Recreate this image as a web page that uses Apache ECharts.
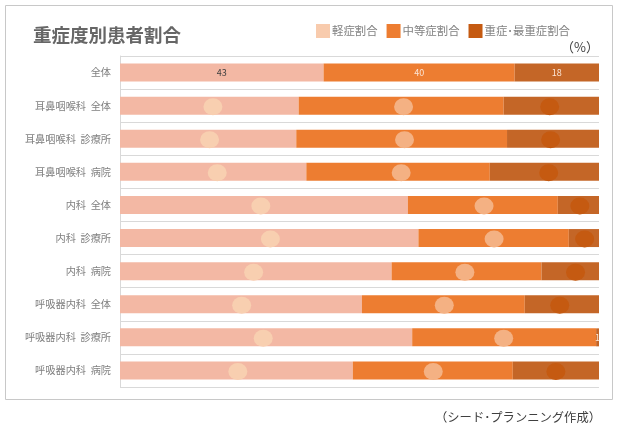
<!DOCTYPE html>
<html>
<head>
<meta charset="utf-8">
<style>html,body{margin:0;padding:0;background:#fff}#main{width:617px;height:428px}</style>
<script src="https://cdn.jsdelivr.net/npm/echarts@6/dist/echarts.min.js"></script>
</head>
<body>
<div id="main"></div>
<script>
var categories = ['全体', '耳鼻咽喉科  全体', '耳鼻咽喉科  診療所', '耳鼻咽喉科  病院', '内科  全体', '内科  診療所', '内科  病院', '呼吸器内科  全体', '呼吸器内科  診療所', '呼吸器内科  病院'];
var seriesNames = ['軽症割合', '中等症割合', '重症･最重症割合'];
// 棒グラフの値
var mild = [42.5, 37.3, 36.8, 38.9, 60.1, 62.3, 56.7, 50.5, 61.0, 48.6];
var moderate = [39.9, 42.8, 44.0, 38.3, 31.3, 31.4, 31.3, 34.0, 38.4, 33.4];
var severe = [17.6, 19.9, 19.2, 22.8, 8.6, 6.3, 12.0, 15.5, 0.6, 18.0];
// 丸印の位置(横軸の値) nullは丸なし
var mildDots = [null, 19.4, 18.7, 20.3, 29.4, 31.4, 27.9, 25.4, 29.9, 24.6];
var moderateDots = [null, 59.2, 59.4, 58.7, 76.0, 78.1, 72.0, 67.7, 80.1, 65.4];
var severeDots = [null, 89.7, 89.9, 89.5, 96.0, 97.0, 95.1, 91.8, null, 91.0];
// 表示するラベル
var mildLabels = ['43', '', '', '', '', '', '', '', '', ''];
var moderateLabels = ['40', '', '', '', '', '', '', '', '', ''];
var severeLabels = ['18', '', '', '', '', '', '', '', '1', ''];

var fontName = '"Noto Sans CJK JP"';

function barSeries(name, values, labels, color, labelColor) {
    return {
        name: name,
        type: 'bar',
        stack: 'total',
        barWidth: 18,
        itemStyle: { color: color },
        label: {
            show: true,
            position: 'inside',
            color: labelColor,
            fontSize: 9,
            fontFamily: fontName,
            formatter: function (p) { return labels[p.dataIndex]; }
        },
        data: values
    };
}

function dotSeries(values, color) {
    return {
        type: 'scatter',
        symbol: 'circle',
        symbolSize: [19, 17],
        symbolOffset: [0, 1],
        z: 5,
        silent: true,
        itemStyle: { color: color, opacity: 1 },
        data: values.map(function (v, i) { return v === null ? null : [v, categories[i]]; }).filter(Boolean)
    };
}

var myChart = echarts.init(document.getElementById('main'));
var option = {
    backgroundColor: '#fff',
    animation: false,
    textStyle: { fontFamily: fontName },
    title: [
        { text: '重症度別患者割合', left: 28, top: 21, textStyle: { color: '#666666', fontSize: 18.5, fontWeight: 'bold', fontFamily: fontName } },
        { text: '（%）', right: 13, top: 36, textStyle: { color: '#404040', fontSize: 13, fontWeight: 'normal', fontFamily: fontName } },
        { text: '（シード･プランニング作成）', right: 11, top: 406, textStyle: { color: '#404040', fontSize: 12.3, fontWeight: 'normal', fontFamily: fontName } }
    ],
    legend: {
        left: 311,
        top: 19,
        itemWidth: 14,
        itemHeight: 14,
        itemGap: 9,
        icon: 'rect',
        textStyle: { color: '#808080', fontSize: 11.4, fontFamily: fontName, padding: [0, 0, 0, -3] },
        data: [
            { name: seriesNames[0], itemStyle: { color: '#f8cbad' } },
            { name: seriesNames[1], itemStyle: { color: '#ed7d31' } },
            { name: seriesNames[2], itemStyle: { color: '#c55a11' } }
        ]
    },
    grid: { left: 120, right: 18, top: 56, height: 331 },
    xAxis: { type: 'value', min: 0, max: 100, show: false },
    yAxis: {
        type: 'category',
        inverse: true,
        data: categories,
        axisLine: { show: true, lineStyle: { color: '#d9d9d9' } },
        axisTick: { show: false },
        splitLine: { show: true, lineStyle: { color: '#d9d9d9' } },
        axisLabel: { color: '#808080', fontSize: 10.2, margin: 9, fontFamily: fontName, interval: 0 }
    },
    graphic: [{
        type: 'rect',
        shape: { x: 5.5, y: 5.5, width: 607, height: 394 },
        style: { fill: 'none', stroke: '#c8c8c8', lineWidth: 1 },
        z: -1
    }],
    series: [
        barSeries(seriesNames[0], mild, mildLabels, '#f3b8a4', '#404040'),
        barSeries(seriesNames[1], moderate, moderateLabels, '#ed7d31', '#fbe5d6'),
        barSeries(seriesNames[2], severe, severeLabels, '#c46627', '#fbe5d6'),
        dotSeries(mildDots, '#f8cfb0'),
        dotSeries(moderateDots, '#f4b183'),
        dotSeries(severeDots, '#c55a11')
    ]
};
myChart.setOption(option);
</script>
</body>
</html>
